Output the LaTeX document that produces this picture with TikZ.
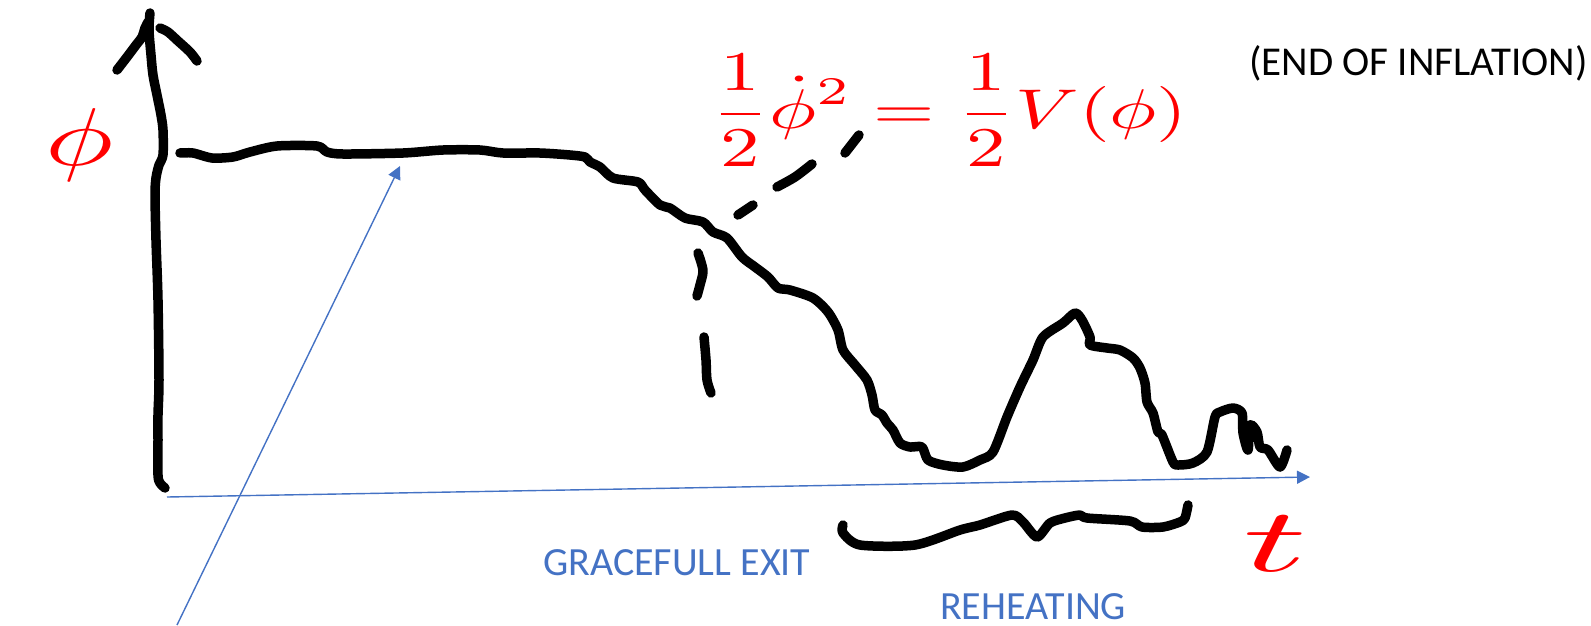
\documentclass[tikz,border=0pt]{standalone}
\usepackage{graphicx}
\usepackage{fontspec}
\newfontfamily\calib{Carlito}
\usetikzlibrary{arrows.meta}
\definecolor{lblue}{HTML}{4472C4}
\definecolor{mred}{HTML}{FF0000}
\tikzset{
  ink/.style={line width=9.5pt, line cap=round, line join=round},
  blueline/.style={draw=lblue, line width=1.4pt, -{Triangle[length=13pt,width=13pt]}},
  bluetext/.style={inner sep=0pt, anchor=base west, text=lblue, font=\calib\fontsize{40}{44}\selectfont},
  blacktext/.style={inner sep=0pt, anchor=base west, text=black, font=\calib\fontsize{41}{44}\selectfont},
  redmath/.style={inner sep=0pt, anchor=base west, text=mred}
}
\begin{document}
\begin{tikzpicture}[x=1pt,y=-1pt]
\useasboundingbox (0,0) rectangle (1591,625);
% vertical axis (hand drawn)
\draw[ink] plot[smooth, tension=0.5] coordinates {(150,13) (149,30) (151,55) (153,75) (157,95) (161,115) (163,130) (163,155) (159,165) (156,178) (155,195) (156,240) (158,300) (159,380) (158,415) (158,440) (158,475) (160,483) (165,488)};
\draw[ink] plot[smooth, tension=0.5] coordinates {(117,70) (127,57) (136,45) (142,37) (145,28) (148,22)};
\draw[ink] plot[smooth, tension=0.5] coordinates {(160,28) (168,32) (178,41) (190,52) (197,61)};
% main curve
\draw[ink] plot[smooth, tension=0.45] coordinates {(180,153) (193,153) (212,158) (233,157) (250,152) (277,146) (317,146) (327,152) (343,154) (403,153) (443,150) (480,150) (503,153) (540,153) (570,155) (585,157) (590,162) (600,167) (613,178) (638,182) (645,190) (660,205) (670,208) (685,218) (703,222) (713,232) (727,238) (742,257) (755,267) (768,277) (778,288) (790,290) (813,298) (828,312) (838,330) (843,350) (855,365) (867,380) (872,395) (875,410) (882,415) (887,423) (893,430) (900,443) (910,447) (922,447) (928,460) (943,465) (963,467) (980,460) (993,452) (1007,417) (1020,387) (1033,360) (1043,337) (1063,323) (1075,313) (1082,320) (1090,337) (1090,345) (1107,348) (1120,350) (1133,358) (1140,368) (1145,383) (1147,402) (1153,413) (1158,432) (1162,435) (1173,462) (1178,465) (1193,463) (1207,452) (1215,417) (1220,412) (1233,408) (1242,413) (1243,433) (1248,450) (1250,425) (1257,432) (1260,447) (1268,450) (1280,467) (1287,450)};
% dashed marker (hand drawn dashes)
\draw[ink] plot[smooth, tension=0.5] coordinates {(698,253) (701,262) (703,272) (700,285) (697,296)};
\draw[ink] plot[smooth, tension=0.5] coordinates {(704,337) (706,360) (707,380) (711,393)};
\draw[ink] (738,215) -- (753,205);
\draw[ink] plot[smooth, tension=0.5] coordinates {(777,187) (795,177) (812,164)};
\draw[ink] (845,153) -- (859,135);
% reheating brace
\draw[ink] plot[smooth, tension=0.45] coordinates {(843,525) (843,533) (860,545) (915,545) (960,530) (980,525) (1012,515) (1023,522) (1037,537) (1050,523) (1065,518) (1080,515) (1087,518) (1130,521) (1142,527) (1163,527) (1180,522) (1185,518) (1188,505)};
% blue arrows
\coordinate (xstart) at (167,497);
\coordinate (xend) at (1310,477);
\coordinate (dstart) at (177,625);
\coordinate (dend) at (400,166);
\draw[blueline] (xstart) -- (xend);
\draw[blueline] (dstart) -- (dend);
% labels
\node[redmath] (phi) at (45,165) {\resizebox{68pt}{8.2\height}{$\phi$}};
\node[redmath] (eq) at (711,128) {\resizebox{476pt}{5.6\height}{$\displaystyle\frac{1}{2}\dot{\phi}^2=\frac{1}{2}V(\phi)$}};
\node[redmath] (t) at (1243,571) {\resizebox{64pt}{9\height}{$t$}};
\node[blacktext] (endinf) at (1249,75) {(END OF INFLATION)};
\node[bluetext] (grace) at (543,575) {GRACEFULL EXIT};
\node[bluetext] (reheat) at (940,619) {REHEATING};
\end{tikzpicture}
\end{document}
